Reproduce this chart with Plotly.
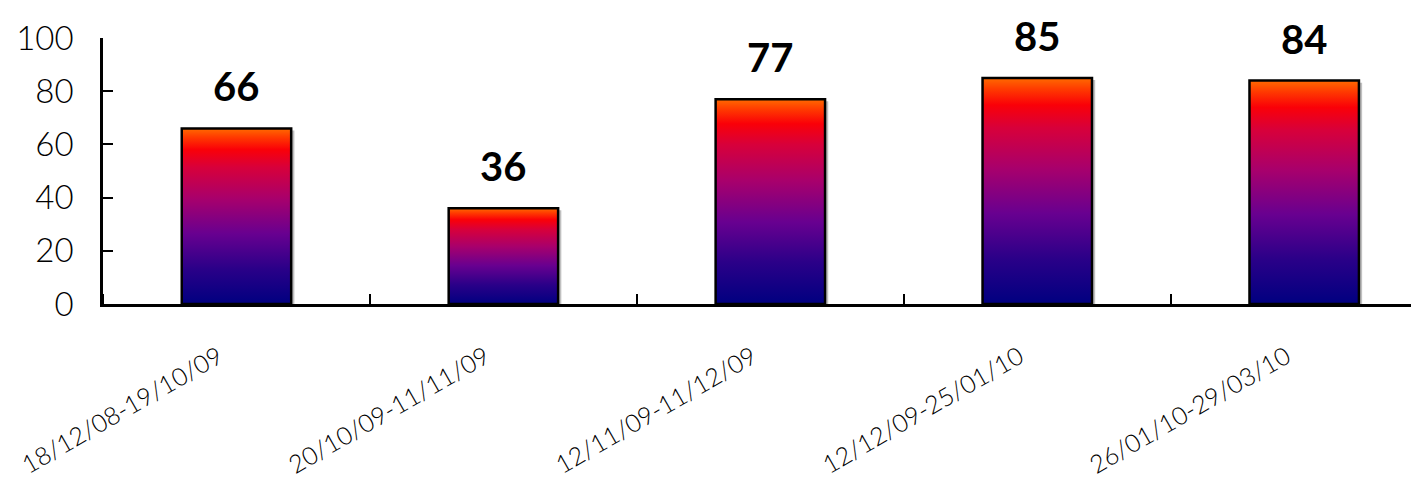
import plotly.graph_objects as go

categories = ["18/12/08-19/10/09", "20/10/09-11/11/09", "12/11/09-11/12/09",
              "12/12/09-25/01/10", "26/01/10-29/03/10"]
values = [66, 36, 77, 85, 84]

bar_width = 0.41
gradient = [[0.0, "#000080"], [0.2, "#2a0088"], [0.4, "#680090"], [0.6, "#a8006c"],
            [0.78, "#d8003a"], [0.88, "#fa0008"], [0.95, "#ff3a00"], [1.0, "#ff6a00"]]

fig = go.Figure()
for i, (cat, v) in enumerate(zip(categories, values)):
    x0, x1 = i - bar_width / 2, i + bar_width / 2
    # shadow
    fig.add_trace(go.Scatter(
        x=[x0 + 0.012, x0 + 0.012, x1 + 0.012, x1 + 0.012, x0 + 0.012],
        y=[0, v - 0.8, v - 0.8, 0, 0], fill="toself", fillcolor="#c0c0c0",
        line=dict(width=0), mode="lines", hoverinfo="skip", showlegend=False))
    fig.add_trace(go.Scatter(
        x=[x0, x0, x1, x1, x0], y=[0, v, v, 0, 0], fill="toself",
        fillgradient=dict(type="vertical", colorscale=gradient),
        line=dict(color="black", width=2.5), mode="lines",
        name=cat, showlegend=False))
    fig.add_annotation(x=i, y=v, text=f"<b>{v}</b>", showarrow=False,
                       yanchor="bottom", yshift=16,
                       font=dict(family="Lato", size=40, color="black", weight=900))

fig.update_layout(
    width=1419, height=488,
    margin=dict(l=95, r=0, t=30, b=192),
    plot_bgcolor="white", paper_bgcolor="white",
    font=dict(family="Lato", color="black"),
    xaxis=dict(range=[-0.5, 4.46], tickvals=list(range(len(categories))),
               ticktext=categories, tickangle=-30, ticks="",
               tickfont=dict(size=25, weight=300), showline=True, linecolor="black",
               linewidth=2.5, showgrid=False, zeroline=False, automargin=False,
               ticklabelstandoff=26, ticklabelshift=-18,
               minor=dict(tick0=-0.5, dtick=1, ticks="inside", ticklen=10,
                          tickwidth=2, tickcolor="black", showgrid=False)),
    yaxis=dict(range=[0, 100], tickvals=[0, 20, 40, 60, 80, 100],
               ticks="inside", ticklen=10, tickwidth=2, tickcolor="black",
               tickfont=dict(size=33, weight=300), showline=True, linecolor="black",
               linewidth=2.5, showgrid=False, zeroline=False, automargin=False,
               ticklabelstandoff=20),
)

fig.write_html("out.html")
